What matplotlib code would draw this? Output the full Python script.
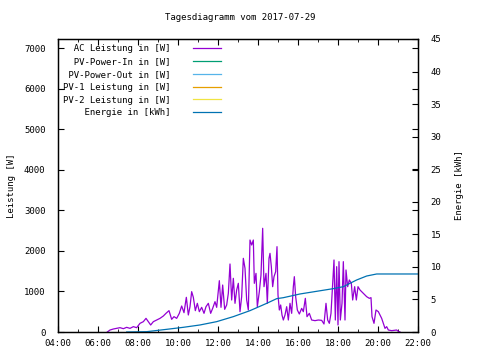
import matplotlib
matplotlib.use("Agg")
import matplotlib.pyplot as plt
from matplotlib.ticker import MultipleLocator, FuncFormatter

# AC Leistung [W]
ac_time = ["06:28", "06:36", "06:46", "06:56", "07:06", "07:16", "07:26", "07:36", "07:46", "07:56",
           "08:06", "08:16", "08:24", "08:31", "08:38", "08:46", "08:56", "09:06", "09:16", "09:24",
           "09:33", "09:41", "09:48", "09:56", "10:04", "10:11", "10:18", "10:25", "10:31", "10:36",
           "10:41", "10:46", "10:52", "10:58", "11:04", "11:11", "11:18", "11:24", "11:31", "11:38",
           "11:44", "11:51", "11:56", "12:04", "12:09", "12:14", "12:20", "12:26", "12:31", "12:36",
           "12:41", "12:46", "12:51", "12:56", "13:01", "13:06", "13:11", "13:16", "13:21", "13:26",
           "13:31", "13:36", "13:41", "13:46", "13:49", "13:54", "13:58", "14:04", "14:09", "14:14",
           "14:18", "14:24", "14:28", "14:33", "14:36", "14:40", "14:44", "14:48", "14:53", "14:57",
           "15:00", "15:04", "15:08", "15:12", "15:16", "15:21", "15:26", "15:31", "15:36", "15:41",
           "15:46", "15:49", "15:53", "15:58", "16:04", "16:11", "16:16", "16:22", "16:27", "16:34",
           "16:41", "16:51", "17:01", "17:11", "17:18", "17:24", "17:29", "17:34", "17:39", "17:44",
           "17:48", "17:52", "17:56", "18:00", "18:03", "18:07", "18:12", "18:16", "18:21", "18:24",
           "18:29", "18:34", "18:40", "18:44", "18:50", "18:55", "19:00", "19:06", "19:16", "19:26",
           "19:34", "19:39", "19:42", "19:48", "19:54", "20:01", "20:06", "20:11", "20:16", "20:21",
           "20:26", "20:31", "20:41", "20:56", "21:01", "21:06"]
ac_power = [0, 49, 74, 90, 107, 82, 115, 90, 132, 107,
            214, 255, 337, 255, 173, 255, 296, 337, 395, 461,
            527, 313, 379, 337, 461, 642, 477, 856, 420, 625,
            996, 856, 527, 708, 502, 609, 461, 625, 708, 461,
            584, 749, 609, 1267, 609, 1160, 560, 667, 955, 1679,
            790, 1325, 708, 1037, 1202, 502, 872, 1819, 1572, 790,
            543, 2271, 2148, 2271, 1202, 1448, 625, 996, 1407, 2560,
            1119, 1448, 708, 1819, 1942, 1613, 1119, 1366, 1490, 2107,
            914, 543, 667, 420, 296, 420, 625, 296, 708, 461,
            1119, 1366, 872, 543, 444, 584, 502, 831, 379, 461,
            296, 280, 296, 288, 198, 708, 296, 214, 461, 1202,
            1778, 296, 1613, 173, 1737, 296, 708, 1737, 296, 1531,
            1119, 1284, 1202, 790, 1119, 790, 1119, 1037, 955, 872,
            831, 848, 379, 214, 543, 502, 420, 337, 214, 90,
            132, 49, 33, 49, 16, 0]

# no data visible for these
pv_in = []
pv_out = []
pv1 = []
pv2 = []

# Energie [kWh]
en_time = ["07:26", "08:26", "09:26", "10:16", "11:06", "11:56", "12:46", "13:36", "14:26", "14:56",
           "15:16", "16:06", "16:56", "17:46", "18:16", "18:36", "18:56", "19:26", "19:56", "22:00"]
energy = [0, 0.05, 0.41, 0.72, 1.08, 1.59, 2.36, 3.28, 4.40, 5.12,
          5.27, 5.84, 6.25, 6.66, 6.96, 7.48, 7.99, 8.60, 8.91, 8.91]


def to_hours(t):
    h, m = t.split(":")
    return int(h) + int(m) / 60.0


font = "DejaVu Sans Mono"
fs = 6.5
plt.rcParams['font.family'] = font
plt.rcParams['font.size'] = fs

fig = plt.figure(figsize=(4.8, 3.6), dpi=100)
ax = fig.add_axes([58 / 480, 28 / 360, 360 / 480, 293 / 360])
ax2 = ax.twinx()

lw = 0.9
ax.plot([to_hours(t) for t in ac_time], ac_power, color="#9400d3", lw=lw,
        label="AC Leistung in [W]".rjust(20))
ax.plot([], pv_in, color="#009e73", lw=lw, label="PV-Power-In in [W]".rjust(20))
ax.plot([], pv_out, color="#56b4e9", lw=lw, label="PV-Power-Out in [W]".rjust(20))
ax.plot([], pv1, color="#e69f00", lw=lw, label="PV-1 Leistung in [W]".rjust(20))
ax.plot([], pv2, color="#f0e442", lw=lw, label="PV-2 Leistung in [W]".rjust(20))
ln, = ax2.plot([to_hours(t) for t in en_time], energy, color="#0072b2", lw=lw,
               label="Energie in [kWh]".rjust(20))

ax.set_xlim(4, 22)
ax.set_ylim(0, 7234)
ax2.set_ylim(0, 45)

ax.xaxis.set_major_locator(MultipleLocator(2))
ax.xaxis.set_minor_locator(MultipleLocator(1))
ax.xaxis.set_major_formatter(FuncFormatter(lambda v, p: "%02d:00" % int(round(v))))
ax.yaxis.set_major_locator(MultipleLocator(1000))
ax2.yaxis.set_major_locator(MultipleLocator(5))

ax.tick_params(axis="x", which="both", direction="in", top=True, pad=5)
ax.tick_params(axis="x", which="major", length=4)
ax.tick_params(axis="x", which="minor", length=2.5)
ax.tick_params(axis="y", direction="in", right=True, length=4, pad=9)
ax2.tick_params(axis="y", direction="in", length=4, pad=9)

for a in (ax, ax2):
    for s in a.spines.values():
        s.set_linewidth(0.9)

ax.set_ylabel("Leistung [W]", labelpad=6)
ax2.set_ylabel("Energie [kWh]", labelpad=10)
fig.text(0.5, 1 - 18 / 360, "Tagesdiagramm vom 2017-07-29", ha="center", va="center")

h1, l1 = ax.get_legend_handles_labels()
leg = ax2.legend(h1 + [ln], l1 + [ln.get_label()], loc="upper left", frameon=False,
                 markerfirst=False, handlelength=3.1, handletextpad=2.4,
                 labelspacing=0.42, borderaxespad=0.2, bbox_to_anchor=(0.0, 1.0))

fig.savefig("out.png", dpi=100)
